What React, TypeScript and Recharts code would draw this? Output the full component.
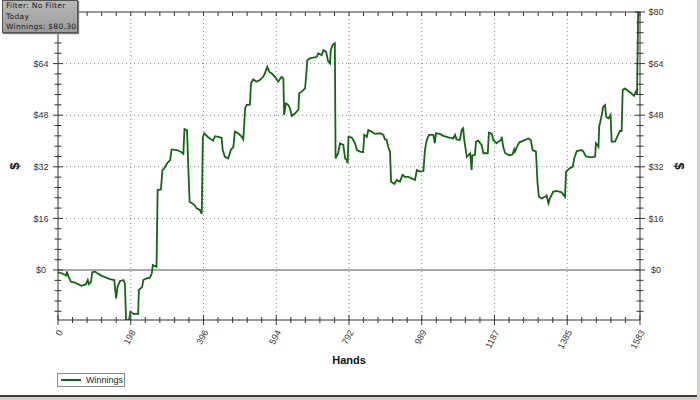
import React from 'react';
import { LineChart, Line, XAxis, YAxis, ReferenceLine } from 'recharts';

const TOTAL_HANDS = 1583;
const xTickLabels = ['0', '198', '396', '594', '792', '989', '1187', '1385', '1583'];
const yTickLabels = ['$0', '$16', '$32', '$48', '$64', '$80'];
const yMajorValues = [0, 16, 32, 48, 64, 80];

const hands = [
  0, 10, 22, 24, 28, 35, 46, 64, 76, 81, 84, 90, 93, 101, 110, 119, 128, 141, 153, 158, 162, 169, 178, 182, 185, 193, 197, 205, 218, 220,
  229, 232, 241, 250, 255, 258, 268, 271, 280, 284, 289, 296, 305, 309, 323, 335, 341, 344, 351, 354, 358, 371, 377, 386, 391, 394, 398, 409, 422,
  427, 436, 445, 448, 454, 463, 470, 477, 481, 490, 500, 504, 509, 513, 522, 525, 531, 540, 549, 558, 563, 569, 575, 581, 590, 599, 608, 613,
  615, 620, 626, 631, 636, 645, 654, 656, 663, 672, 676, 678, 685, 704, 708, 717, 722, 729, 735, 740, 742, 747, 753, 755, 762, 767, 776, 781,
  785, 788, 790, 799, 808, 813, 821, 830, 833, 840, 844, 853, 862, 876, 885, 889, 894, 898, 903, 906, 915, 921, 930, 937, 944, 953, 962, 971,
  976, 985, 994, 998, 1003, 1009, 1021, 1025, 1028, 1039, 1048, 1062, 1075, 1080, 1084, 1093, 1098, 1102, 1105, 1112, 1121, 1125, 1127, 1134,
  1137, 1143, 1152, 1157, 1169, 1172, 1180, 1184, 1193, 1198, 1205, 1207, 1211, 1216, 1227, 1236, 1241, 1243, 1248, 1255, 1266, 1279, 1286,
  1291, 1300, 1304, 1308, 1316, 1325, 1329, 1334, 1338, 1347, 1356, 1370, 1379, 1382, 1391, 1400, 1404, 1411, 1424, 1429, 1436, 1452, 1461,
  1463, 1470, 1472, 1479, 1483, 1488, 1491, 1497, 1503, 1506, 1515, 1521, 1528, 1533, 1536, 1542, 1551, 1559, 1567, 1572, 1575, 1578, 1583,
];

const winnings = [
  -0.7, -1, -1.7, -0.5, -1.9, -3.6, -3.9, -4.9, -4.4, -3.1, -4.4, -3.6, -0.7, -0.5, -1.2, -1.8, -2.2, -2.8, -3.1, -8.8, -5.2, -3.4, -3.1, -4.3, -15.3, -15.7, -12.9, -13.6, -13.6, -6.2,
  -5.2, -3.1, -2.6, -2.4, -1.0, 1.55, 1.0, 24.8, 25, 31, 31.5, 33, 34.1, 37.4, 37.2, 36.6, 36, 43.7, 43.4, 33.1, 21.2, 20.2, 19.1, 18.6, 17.4, 41.3, 42.4, 41.1, 40.1,
  41.5, 41.3, 41, 37.2, 35.1, 34.6, 37.2, 38.2, 42.9, 42.4, 41.3, 40.5, 50.1, 51.2, 51.3, 57.9, 59.1, 58.4, 58.9, 59.9, 61, 63, 61.4, 61, 59.9, 58.4, 59.9, 59.4,
  48.1, 51.7, 51.2, 50.1, 47.8, 48.6, 49.7, 54.8, 55.3, 56.3, 61.5, 65.1, 65.6, 66.1, 67.2, 66.6, 68.2, 67.7, 64.6, 64, 68.2, 69.8, 70.3, 34.6, 36.2, 39.3, 38.8, 34.6,
  34.3, 33.1, 41.3, 41.1, 39.3, 37.2, 36.7, 36.5, 41.9, 41.3, 43.4, 42.9, 42.2, 42.4, 41.9, 40.5, 40.3, 38.2, 36.7, 27.4, 26.7, 27.9, 27.4, 29.5, 28.9, 28.9, 28.4, 27.9,
  31, 30.5, 30.7, 37.2, 40.3, 41.9, 41.9, 39.3, 42.4, 42.2, 41.6, 41.1, 40.8, 41.9, 40.5, 40.3, 43.4, 43.9, 40.3, 35.1, 36.2, 31, 35.6, 35.7,
  39.8, 40.1, 38.8, 36.2, 36.2, 42.6, 42.2, 40.3, 39.3, 39.8, 40.3, 41.3, 38.2, 36.3, 35.6, 35.8, 37.4, 36.7, 38.2, 39.6, 40.1, 40.8, 40.3,
  37.2, 36.7, 27.4, 22.7, 22.2, 22.7, 23.1, 20.7, 22.2, 24.3, 24.5, 24.1, 22.7, 30.5, 31.5, 32, 34.6, 36.9, 37.2, 36.7, 35.2, 34.9, 35.2,
  39.3, 38.2, 44.4, 48.1, 50.6, 51.1, 47.5, 47, 48.1, 39.8, 39.8, 41.3, 43.1, 43.1, 55.8, 56.3, 55.5, 54.8, 54, 55.3, 54.4, 80.1, 80.3,
];

const data = hands.map((h, i) => ({ hand: h, winnings: winnings[i] }));

// 40 minor divisions along x, every 5th is a labelled major tick
const xTicks = Array.from({ length: 41 }, (_, k) => (TOTAL_HANDS * k) / 40);
const xMajor = xTicks.filter((_, k) => k % 5 === 0 && k > 0 && k < 40);
// y ticks every 3.2 ($16 / 5)
const yTicks = Array.from({ length: 30 }, (_, k) => (k - 4) * 3.2);

const FONT = '"Liberation Sans", Arial, sans-serif';
const AXIS = '#333';
const GREEN = '#146614';

const BottomTick = (props: any) => {
  const { x, y, index } = props;
  const major = index % 5 === 0;
  const len = major ? 5 : 3;
  const tx = x + 5;
  const ty = y + 12;
  return (
    <g>
      <line x1={x} x2={x} y1={y - len} y2={y + len} stroke={AXIS} strokeWidth={1} />
      {major && (
        <text x={tx} y={ty} transform={`rotate(-62 ${tx} ${ty})`} textAnchor="end" fontSize={9} fontFamily={FONT} fill="#333">
          {xTickLabels[index / 5]}
        </text>
      )}
    </g>
  );
};

const TopTick = (props: any) => {
  const { x, y } = props;
  return <line x1={x} x2={x} y1={y} y2={y + 4} stroke={AXIS} strokeWidth={1} />;
};

const YTick = (side: 'left' | 'right') => (props: any) => {
  const { x, y, index } = props;
  const major = index >= 4 && (index - 4) % 5 === 0;
  const len = major ? 5 : 3.5;
  const labelIdx = (index - 4) / 5;
  // the left $80 label sits under the info box in the reference, so it is not drawn
  const showLabel = major && !(side === 'left' && labelIdx === yTickLabels.length - 1);
  return (
    <g>
      <line x1={x - len} x2={x + len} y1={y} y2={y} stroke={AXIS} strokeWidth={1} />
      {showLabel && (
        <text
          x={side === 'left' ? x - 17 : x + 16}
          y={y}
          dy="0.35em"
          textAnchor="middle"
          fontSize={9}
          fontFamily={FONT}
          fill="#333"
        >
          {yTickLabels[labelIdx]}
        </text>
      )}
    </g>
  );
};

const LeftTick = YTick('left');
const RightTick = YTick('right');

const DollarLabel = (side: 'left' | 'right') => (props: any) => {
  const vb = props.viewBox || {};
  const cx = side === 'left' ? vb.x + 14 : vb.x + 40;
  const cy = vb.y + vb.height / 2;
  return (
    <text
      x={cx}
      y={cy}
      dy="0.35em"
      textAnchor="middle"
      transform={`rotate(${side === 'left' ? -90 : 90} ${cx} ${cy})`}
      fontSize={13}
      fontWeight="bold"
      fontFamily={FONT}
      fill="#111"
    >
      $
    </text>
  );
};

const HandsLabel = (props: any) => {
  const vb = props.viewBox || {};
  return (
    <text x={vb.x + vb.width / 2} y={vb.y + 44} textAnchor="middle" fontSize={11} fontWeight="bold" fontFamily={FONT} fill="#111">
      Hands
    </text>
  );
};

export default function App() {
  return (
    <div style={{ position: 'absolute', left: 0, top: 0, width: 700, height: 400, background: '#fff', overflow: 'hidden' }}>
      <LineChart width={700} height={400} data={data} margin={{ top: 0, right: 0, bottom: 0, left: 0 }}>
        <XAxis
          xAxisId="b"
          dataKey="hand"
          type="number"
          domain={[0, TOTAL_HANDS]}
          ticks={xTicks}
          interval={0}
          height={80}
          tickSize={0}
          tickMargin={0}
          tick={<BottomTick />}
          stroke={AXIS}
          label={<HandsLabel />}
        />
        <XAxis
          xAxisId="t"
          orientation="top"
          dataKey="hand"
          type="number"
          domain={[0, TOTAL_HANDS]}
          ticks={xTicks}
          interval={0}
          height={12}
          tickSize={0}
          tickMargin={0}
          tick={<TopTick />}
          stroke={AXIS}
        />
        <YAxis
          yAxisId="l"
          type="number"
          domain={[-15.5, 80]}
          ticks={yTicks}
          interval={0}
          width={58}
          tickSize={0}
          tickMargin={0}
          tick={<LeftTick />}
          stroke={AXIS}
          allowDataOverflow
          label={{ content: DollarLabel('left') }}
        />
        <YAxis
          yAxisId="r"
          orientation="right"
          type="number"
          domain={[-15.5, 80]}
          ticks={yTicks}
          interval={0}
          width={60}
          tickSize={0}
          tickMargin={0}
          tick={<RightTick />}
          stroke={AXIS}
          allowDataOverflow
          label={{ content: DollarLabel('right') }}
        />
        {xMajor.map((v) => (
          <ReferenceLine key={'vx' + v} xAxisId="b" yAxisId="l" x={v} stroke="#888" strokeDasharray="1 3" />
        ))}
        {yMajorValues.slice(1, 5).map((v) => (
          <ReferenceLine key={'hy' + v} xAxisId="b" yAxisId="l" y={v} stroke="#888" strokeDasharray="1 3" />
        ))}
        <ReferenceLine xAxisId="b" yAxisId="l" y={0} stroke="#8a8a8a" strokeWidth={1.5} />
        <Line
          xAxisId="b"
          yAxisId="l"
          type="linear"
          dataKey="winnings"
          stroke={GREEN}
          strokeWidth={1.8}
          dot={false}
          isAnimationActive={false}
        />
      </LineChart>

      <div
        style={{
          position: 'absolute',
          left: 2,
          top: 0,
          width: 76,
          height: 33,
          background: 'linear-gradient(#b8b8b8, #9a9a9a)',
          border: '1px solid #555',
          boxShadow: '1px 1px 1px #777',
          fontFamily: '"DejaVu Sans", Verdana, sans-serif',
          fontSize: 7.5,
          lineHeight: '10.5px',
          letterSpacing: 0.3,
          color: '#1a1a1a',
          padding: '0 0 0 3px',
          boxSizing: 'border-box',
          whiteSpace: 'nowrap',
        }}
      >
        <div>Filter: No Filter</div>
        <div>Today</div>
        <div>Winnings: $80.30</div>
      </div>

      <div
        style={{
          position: 'absolute',
          left: 57,
          top: 373,
          width: 68,
          height: 14,
          border: '1px solid #888',
          boxSizing: 'border-box',
          background: '#fff',
          display: 'flex',
          alignItems: 'center',
          fontFamily: FONT,
          fontSize: 9,
          color: '#222',
        }}
      >
        <div style={{ width: 20, height: 2, background: GREEN, marginLeft: 3, marginRight: 5 }} />
        <span>Winnings</span>
      </div>

      <div style={{ position: 'absolute', left: 0, top: 395, width: 700, height: 2, background: '#3a3a3a' }} />
      <div style={{ position: 'absolute', left: 0, top: 397, width: 700, height: 3, background: '#d4d0c8' }} />
      <div style={{ position: 'absolute', left: 697, top: 0, width: 3, height: 397, background: '#d4d0c8' }} />
    </div>
  );
}
